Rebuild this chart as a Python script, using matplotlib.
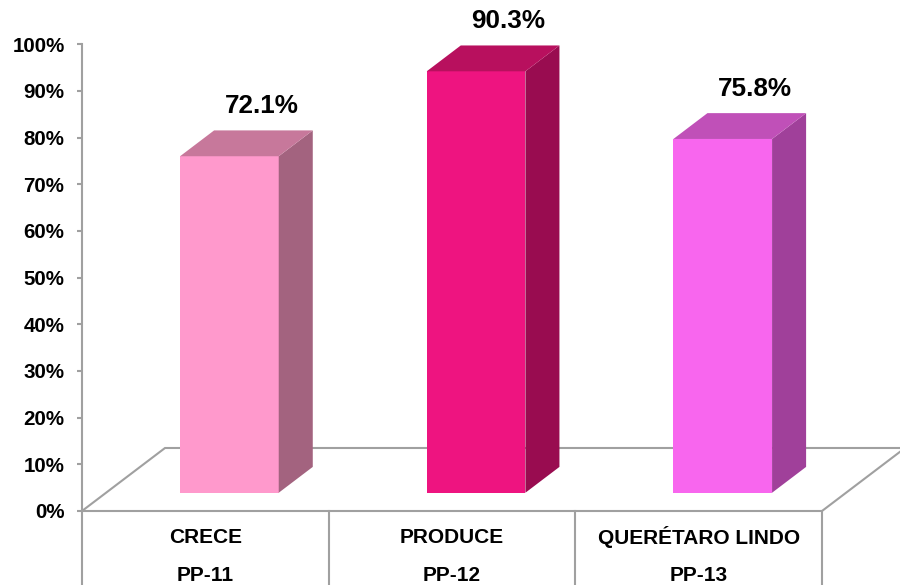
import matplotlib.pyplot as plt
import numpy as np

categories = ["CRECE", "PRODUCE", "QUERÉTARO LINDO"]
codes = ["PP-11", "PP-12", "PP-13"]
values = [72.1, 90.3, 75.8]
front_colors = ["#FF99CC", "#EE1480", "#F866EE"]
side_colors = ["#A3637F", "#990C50", "#A0409A"]
top_colors = ["#C7789B", "#B8105E", "#C050B8"]
yticks = np.arange(0, 101, 10)

plt.rcParams["font.family"] = ["Liberation Sans", "DejaVu Sans"]
plt.rcParams["font.weight"] = "bold"

grid = "#A0A0A0"
ddx, ddy = 0.3365, 13.5      # full floor depth in data units
f0, fd = 0.29, 0.41          # bar front position / bar depth as fraction of floor depth
bw = 0.4

fig = plt.figure(figsize=(9, 5.85), dpi=100)
ax = fig.add_axes([82 / 900, 74 / 585, 740 / 900, 466.7 / 585])
ax.set_xlim(0, 3)
ax.set_ylim(0, 100)

# floor
ax.fill([0, 3, 3 + ddx, ddx], [0, 0, ddy, ddy], facecolor="white",
        edgecolor=grid, lw=1.5, clip_on=False, zorder=1)

# category boxes under the floor
for k in range(len(categories) + 1):
    ax.plot([k, k], [0, -17], color=grid, lw=1.5, clip_on=False, zorder=1)
for i, (name, code) in enumerate(zip(categories, codes)):
    ax.text(i + 0.5, -5.6, name, ha="center", va="center", fontsize=15)
    ax.text(i + 0.5, -13.8, code, ha="center", va="center", fontsize=15)

# 3d bars
bdx, bdy = fd * ddx, fd * ddy
for i, v in enumerate(values):
    x0 = i + 0.5 - bw / 2 + f0 * ddx
    y0 = f0 * ddy
    x1, y1 = x0 + bw, y0 + v
    ax.fill([x0, x1, x1, x0], [y0, y0, y1, y1], color=front_colors[i],
            lw=0, clip_on=False, zorder=3)
    ax.fill([x1, x1 + bdx, x1 + bdx, x1], [y0, y0 + bdy, y1 + bdy, y1],
            color=side_colors[i], lw=0, clip_on=False, zorder=3)
    ax.fill([x0, x1, x1 + bdx, x0 + bdx], [y1, y1, y1 + bdy, y1 + bdy],
            color=top_colors[i], lw=0, clip_on=False, zorder=3)
    ax.annotate(f"{v:.1f}%", xy=((x0 + x1) / 2, y1), xytext=(32, 50),
                textcoords="offset pixels", ha="center", va="center",
                fontsize=18.8, annotation_clip=False)

for s in ["top", "right", "bottom"]:
    ax.spines[s].set_visible(False)
ax.spines["left"].set_bounds(0, 100)
ax.spines["left"].set_color(grid)
ax.spines["left"].set_linewidth(1.5)
ax.set_xticks([])
ax.set_yticks(yticks)
ax.set_yticklabels([f"{t}%" for t in yticks])
ax.tick_params(axis="y", length=3.6, width=1.5, color=grid, pad=9,
               labelsize=14.8)
ax.patch.set_visible(False)

fig.savefig("out.png", dpi=100)
